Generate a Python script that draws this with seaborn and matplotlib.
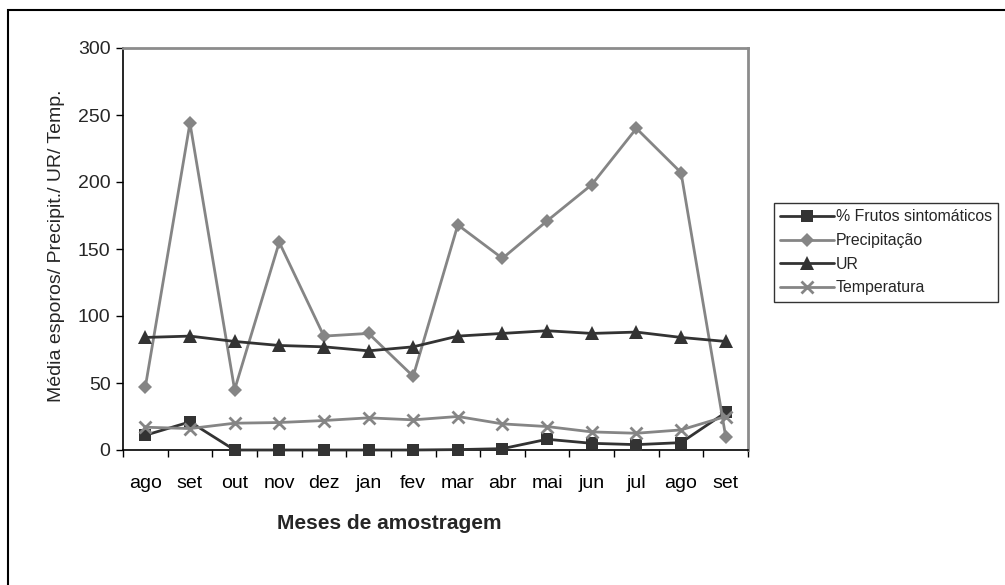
import matplotlib
matplotlib.use("Agg")
import matplotlib.pyplot as plt
from matplotlib.patches import Rectangle
from matplotlib.lines import Line2D
from matplotlib.ticker import FixedLocator, NullFormatter
import seaborn as sns
import pandas as pd
import numpy as np

# Sampling months (Aug through the following Sep)
meses = ["ago", "set", "out", "nov", "dez", "jan", "fev", "mar",
         "abr", "mai", "jun", "jul", "ago", "set"]

frutos = [11, 21, 0, 0, 0, 0, 0, 0.3, 1, 8, 5, 4, 5.5, 28]
precipitacao = [47, 244, 45, 155, 85, 87, 55, 168, 143, 171, 198, 240, 207, 10]
ur = [84, 85, 81, 78, 77, 74, 77, 85, 87, 89, 87, 88, 84, 81]
temperatura = [17, 16, 20, 20.5, 22, 24, 22.5, 25, 19.5, 17.5, 13.5, 12.5, 15, 25]

series_names = ["% Frutos sintomáticos", "Precipitação", "UR", "Temperatura"]
series_values = [frutos, precipitacao, ur, temperatura]

DARK = "#333333"
GRAY = "#858585"
styles = {
    "% Frutos sintomáticos": dict(color=DARK, marker="s", ms=9, mew=0),
    "Precipitação": dict(color=GRAY, marker="D", ms=7.5, mew=0),
    "UR": dict(color=DARK, marker="^", ms=10, mew=0),
    "Temperatura": dict(color=GRAY, marker="x", ms=9, mew=2),
}

sns.set_theme(style="white")
plt.rcParams["font.family"] = ["Liberation Sans", "DejaVu Sans"]

fig = plt.figure(figsize=(10.05, 5.85), dpi=100)
ax = fig.add_axes([123 / 1005, 1 - 450 / 585, 625 / 1005, 402 / 585])

pos = np.arange(len(meses))
for name, vals in zip(series_names, series_values):
    df = pd.DataFrame({"pos": pos, "valor": vals})
    st = styles[name]
    sns.lineplot(data=df, x="pos", y="valor", ax=ax, color=st["color"],
                 linewidth=2, marker=st["marker"], markersize=st["ms"],
                 markeredgewidth=st["mew"], markeredgecolor=st["color"],
                 markerfacecolor=st["color"], legend=False, clip_on=False,
                 zorder=3)

ax.set_xlim(-0.5, len(meses) - 0.5)
ax.set_ylim(0, 300)
ax.set_yticks(np.arange(0, 301, 50))
ax.set_xticks(pos)
ax.set_xticklabels(meses)
ax.xaxis.set_minor_locator(FixedLocator(np.arange(-0.5, len(meses), 1.0)))
ax.xaxis.set_minor_formatter(NullFormatter())
ax.tick_params(axis="x", which="major", length=0, pad=18, labelsize=14,
               colors="black")
ax.tick_params(axis="x", which="minor", direction="out", length=5, width=1,
               color="black", bottom=True)
ax.tick_params(axis="y", direction="out", length=5, width=1, color="black",
               pad=4, labelsize=14, left=True)

for side in ["left", "bottom"]:
    ax.spines[side].set_color("black")
    ax.spines[side].set_linewidth(1.2)
for side in ["top", "right"]:
    ax.spines[side].set_color("#8c8c8c")
    ax.spines[side].set_linewidth(2)
ax.grid(False)

ax.set_xlabel("Meses de amostragem", fontsize=15, fontweight="bold")
ax.xaxis.set_label_coords(0.4256, -0.16)
ax.set_ylabel("Média esporos/ Precipit./ UR/ Temp.", fontsize=14)
ax.yaxis.set_label_coords(-0.092, 0.507)

handles = []
for name in series_names:
    st = styles[name]
    handles.append(Line2D([], [], color=st["color"], lw=2, marker=st["marker"],
                          ms=st["ms"], mew=st["mew"], mfc=st["color"],
                          mec=st["color"]))
leg = fig.legend(handles, series_names, loc="upper left",
                 bbox_to_anchor=(774 / 1005, 1 - 203 / 585),
                 frameon=True, fancybox=False, edgecolor="black",
                 fontsize=11.4, handlelength=3.4, handletextpad=0.1,
                 borderpad=0.4, labelspacing=0.55, borderaxespad=0)
leg.get_frame().set_linewidth(1)

# Outer chart frame (open to the right and bottom)
fig.patches.append(Rectangle((8 / 1005, -0.1), 1.2, 0.1 + (585 - 10) / 585,
                             transform=fig.transFigure, fill=False,
                             edgecolor="black", linewidth=1.5))

fig.savefig("out.png", dpi=100)
